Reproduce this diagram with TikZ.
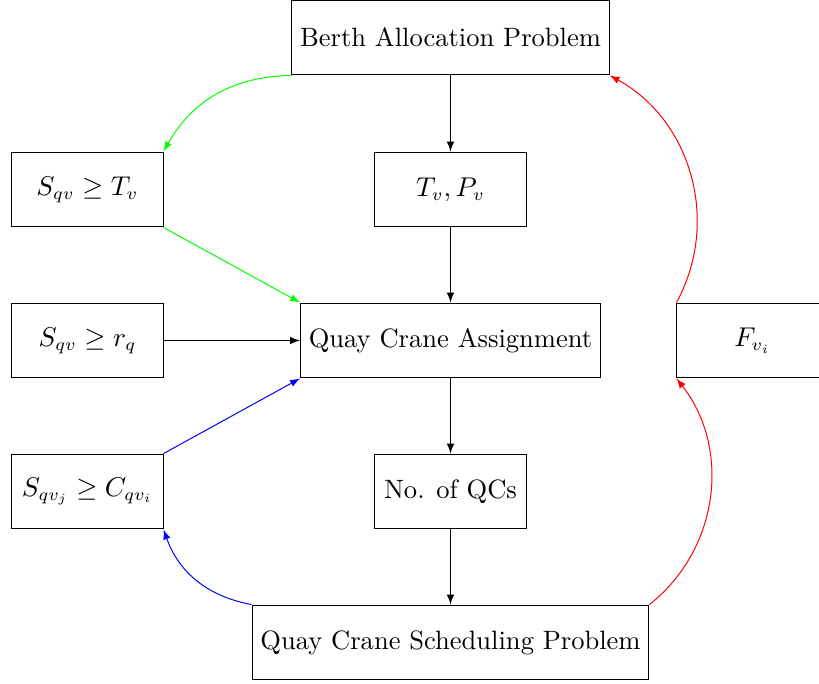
\documentclass[tikz,border=0pt]{standalone}
\begin{document}
\begin{tikzpicture}[x=0.4032pt,y=-0.4032pt,
  boxnode/.style={draw, rectangle, font=\fontsize{10.7}{13}\selectfont, minimum width=60.9pt, minimum height=30.2pt, inner sep=0.3333em},
  arr/.style={-latex}]
\useasboundingbox (0,0) rectangle (819,683);
\node[boxnode] (berth) at (450.5,37.5) {Berth Allocation Problem};
\node[boxnode] (tp) at (450.5,189.5) {$T_v, P_v$};
\node[boxnode] (stv) at (87.5,189.5) {$S_{qv} \geq T_v$};
\node[boxnode] (srq) at (87.5,340.5) {$S_{qv} \geq r_q$};
\node[boxnode] (qca) at (450.5,340.5) {Quay Crane Assignment};
\node[boxnode] (fvi) at (752.5,340.5) {$F_{v_i}$};
\node[boxnode] (sc) at (87.5,491.5) {$S_{qv_j} \geq C_{qv_i}$};
\node[boxnode] (noqc) at (450.5,491.5) {No. of QCs};
\node[boxnode] (qcsp) at (450.5,642.5) {Quay Crane Scheduling Problem};
\draw[arr] (berth) -- (tp);
\draw[arr] (tp) -- (qca);
\draw[arr] (qca) -- (noqc);
\draw[arr] (noqc) -- (qcsp);
\draw[arr] (srq) -- (qca);
\draw[arr, green] (stv.south east) -- (qca.north west);
\draw[arr, blue] (sc.north east) -- (qca.south west);
\draw[arr, green] (berth.south west) to[bend right=30] (stv.north east);
\draw[arr, blue] (qcsp.north west) to[bend left=30] (sc.south east);
\draw[arr, red] (fvi.north west) to[bend right=45] (berth.south east);
\draw[arr, red] (qcsp.north east) to[bend right=45] (fvi.south west);
\end{tikzpicture}
\end{document}
